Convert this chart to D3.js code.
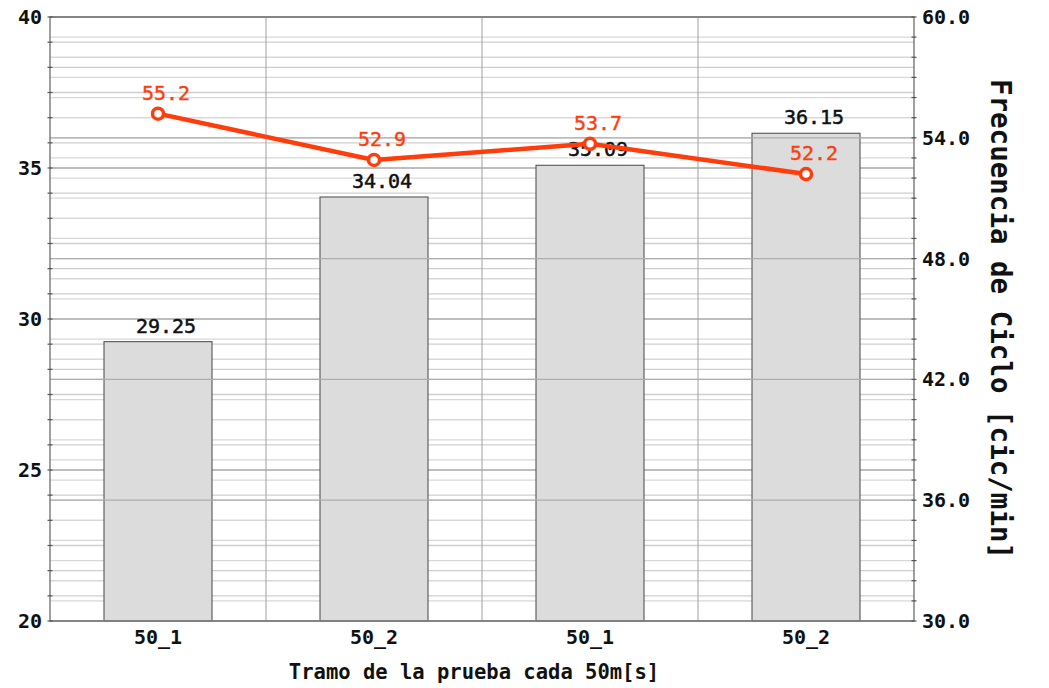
<!DOCTYPE html>
<html>
<head>
<meta charset="utf-8">
<script src="https://cdn.jsdelivr.net/npm/d3@7"></script>
<style>
  html, body { margin: 0; padding: 0; background: #fff; }
  svg { display: block; }
  text { font-family: "DejaVu Sans Mono", monospace; }
</style>
</head>
<body>
<svg id="chart" width="1049" height="688"></svg>
<script>
// Tramos de 50 m: tiempo por tramo (barras) y frecuencia de ciclo (línea)
const tramos = ["50_1", "50_2", "50_1", "50_2"];
const tiempos = [29.25, 34.04, 35.09, 36.15];
const frecuencias = [55.2, 52.9, 53.7, 52.2];

const leftTicks = [20, 25, 30, 35, 40];
const rightTicks = [30, 36, 42, 48, 54, 60];

const W = 1049, H = 688;
const m = { left: 50, right: 135, top: 17, bottom: 67 };
const x0 = m.left, x1 = W - m.right, y0 = H - m.bottom, y1 = m.top;

const svg = d3.select("#chart");

const x = d3.scaleBand().domain(d3.range(tramos.length)).range([x0, x1]).padding(0);
const yL = d3.scaleLinear().domain([20, 40]).range([y0, y1]);
const yR = d3.scaleLinear().domain([30, 60]).range([y0, y1]);

const leftMinor = d3.range(0, 25).map(i => 20 + i * 20 / 24);
const rightMinor = d3.range(30, 61, 1);

const grid = svg.append("g");
// minor grid (both scales)
grid.selectAll(".gl").data(leftMinor).join("line")
  .attr("x1", x0).attr("x2", x1)
  .attr("y1", d => yL(d)).attr("y2", d => yL(d))
  .attr("stroke", "#cfcfcf").attr("stroke-width", 1.3);
grid.selectAll(".gr").data(rightMinor).join("line")
  .attr("x1", x0).attr("x2", x1)
  .attr("y1", d => yR(d)).attr("y2", d => yR(d))
  .attr("stroke", "#d8d8d8").attr("stroke-width", 1.3);
// left major grid
grid.selectAll(".gm").data(leftTicks).join("line")
  .attr("x1", x0).attr("x2", x1)
  .attr("y1", d => yL(d)).attr("y2", d => yL(d))
  .attr("stroke", "#b4b4b4").attr("stroke-width", 1.3);
// vertical separators between tramos
grid.selectAll(".gv").data(d3.range(1, tramos.length)).join("line")
  .attr("x1", d => x(d)).attr("x2", d => x(d))
  .attr("y1", y1).attr("y2", y0)
  .attr("stroke", "#a0a0a0").attr("stroke-width", 1);

// bars
const bw = x.bandwidth() * 0.5;
svg.append("g").selectAll("rect").data(tiempos).join("rect")
  .attr("x", (d, i) => x(i) + x.bandwidth() / 2 - bw / 2)
  .attr("y", d => yL(d))
  .attr("width", bw)
  .attr("height", d => y0 - yL(d))
  .attr("fill", "#dcdcdc")
  .attr("stroke", "#555")
  .attr("stroke-width", 1.1);

// right major grid drawn over the bars
svg.append("g").selectAll("line").data(rightTicks).join("line")
  .attr("x1", x0).attr("x2", x1)
  .attr("y1", d => yR(d)).attr("y2", d => yR(d))
  .attr("stroke", "#adadad").attr("stroke-width", 1.3);

// bar value labels
svg.append("g").selectAll("text").data(tiempos).join("text")
  .attr("x", (d, i) => x(i) + x.bandwidth() / 2 + 8)
  .attr("y", d => yL(d) - 9)
  .attr("text-anchor", "middle")
  .attr("font-size", 20)
  .attr("fill", "#111").attr("stroke", "#111").attr("stroke-width", 0.5)
  .text(d => d.toFixed(2));

// frame
svg.append("rect")
  .attr("x", x0).attr("y", y1).attr("width", x1 - x0).attr("height", y0 - y1)
  .attr("fill", "none").attr("stroke", "#6e6e6e").attr("stroke-width", 1.3);

// left axis
const axL = svg.append("g").attr("transform", `translate(${x0},0)`)
  .call(d3.axisLeft(yL).tickValues(leftTicks).tickSize(0).tickPadding(8));
axL.select(".domain").remove();
axL.selectAll("text").attr("font-size", 20).attr("font-weight", "bold")
  .attr("fill", "#111").attr("font-family", "DejaVu Sans Mono");
svg.append("g").selectAll("line").data(leftMinor).join("line")
  .attr("x1", x0 - 2.5).attr("x2", x0 + 2.5)
  .attr("y1", d => yL(d)).attr("y2", d => yL(d))
  .attr("stroke", "#555").attr("stroke-width", 1.2);

// right axis
const axR = svg.append("g").attr("transform", `translate(${x1},0)`)
  .call(d3.axisRight(yR).tickValues(rightTicks).tickFormat(d3.format(".1f")).tickSize(0).tickPadding(8));
axR.select(".domain").remove();
axR.selectAll("text").attr("font-size", 20).attr("font-weight", "bold")
  .attr("fill", "#111").attr("font-family", "DejaVu Sans Mono");
svg.append("g").selectAll("line").data(rightMinor).join("line")
  .attr("x1", x1 - 2.5).attr("x2", x1 + 2.5)
  .attr("y1", d => yR(d)).attr("y2", d => yR(d))
  .attr("stroke", "#555").attr("stroke-width", 1.2);

// bottom axis
const axB = svg.append("g").attr("transform", `translate(0,${y0})`)
  .call(d3.axisBottom(x).tickFormat(i => tramos[i]).tickSize(0).tickPadding(9));
axB.select(".domain").remove();
axB.selectAll("text").attr("font-size", 20).attr("font-weight", "bold")
  .attr("fill", "#111").attr("font-family", "DejaVu Sans Mono");

// axis titles
svg.append("text")
  .attr("x", 474).attr("y", 679)
  .attr("text-anchor", "middle")
  .attr("font-size", 20.5).attr("font-weight", "bold").attr("fill", "#111")
  .text("Tramo de la prueba cada 50m[s]");
svg.append("text")
  .attr("transform", `translate(991,319) rotate(90)`)
  .attr("text-anchor", "middle")
  .attr("font-size", 27.5).attr("font-weight", "bold").attr("fill", "#111")
  .text("Frecuencia de Ciclo [cic/min]");

// frequency line
const red = "#ff3c0a";
const cx = i => x(i) + x.bandwidth() / 2;
svg.append("path")
  .datum(frecuencias)
  .attr("d", d3.line().x((d, i) => cx(i)).y(d => yR(d)))
  .attr("fill", "none").attr("stroke", red).attr("stroke-width", 4.5)
  .attr("stroke-linejoin", "round");
svg.append("g").selectAll("circle").data(frecuencias).join("circle")
  .attr("cx", (d, i) => cx(i)).attr("cy", d => yR(d)).attr("r", 5.5)
  .attr("fill", "#fff").attr("stroke", red).attr("stroke-width", 3.5);
svg.append("g").selectAll("text").data(frecuencias).join("text")
  .attr("x", (d, i) => cx(i) + 8)
  .attr("y", d => yR(d) - 14)
  .attr("text-anchor", "middle")
  .attr("font-size", 20).attr("fill", red).attr("stroke", red).attr("stroke-width", 0.4)
  .text(d => d.toFixed(1));
</script>
</body>
</html>
